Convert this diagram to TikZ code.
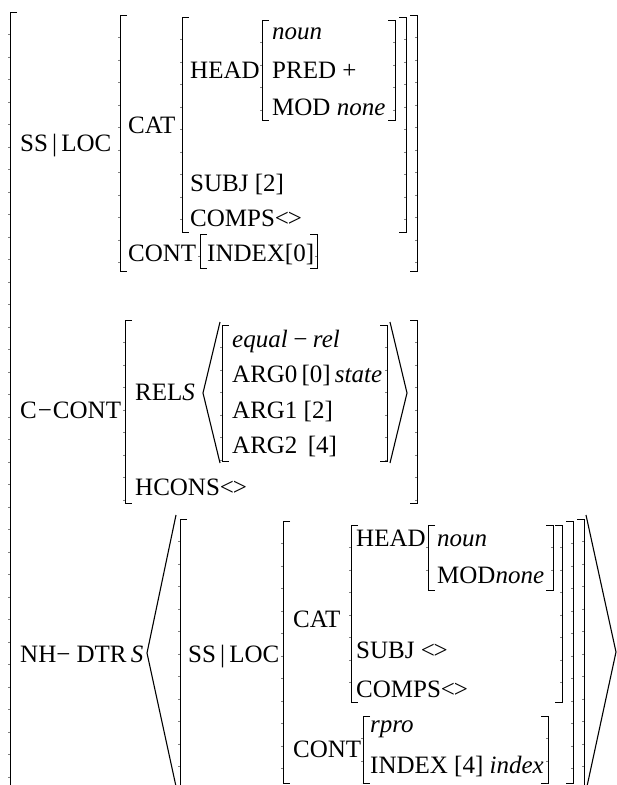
\documentclass[tikz,border=0pt]{standalone}
\usepackage{fontspec}
\setmainfont{Liberation Serif}
\newcommand\emptyl{<\kern-0.05em>}
% left and right AVM brackets: x, top, bottom
\newcommand\avmL[3]{%
  \draw[brk] (#1+7,#2) -- (#1,#2) -- (#1,#3) -- (#1+7,#3);
  \draw[ticks] (#1-0.8,#2) -- (#1-0.8,#3);}
\newcommand\avmR[3]{%
  \draw[brk] (#1-7,#2) -- (#1,#2) -- (#1,#3) -- (#1-7,#3);
  \draw[ticks] (#1-0.8,#2) -- (#1-0.8,#3);}

\begin{document}
\begin{tikzpicture}[x=1pt,y=-1pt,
  lbl/.style={anchor=base west,inner sep=0pt,font=\fontsize{25}{29}\selectfont},
  brk/.style={line width=0.9pt},
  ticks/.style={line width=1.8pt,dash pattern=on 0.5pt off 22pt,dash phase=0.5pt,black!50},
  ang/.style={line width=1.1pt,line join=miter}]
  \useasboundingbox (0,0) rectangle (617,785);

  % outer matrix
  \avmL{10}{12}{792}

  % SS|LOC
  \node[lbl] (ssloc) at (20,151) {SS\,|\,LOC};
  \avmL{120}{15}{271} \avmR{417}{15}{271}
  \node[lbl] (cat) at (128,133) {CAT};
  \avmL{182}{17}{232} \avmR{406}{17}{232}
  \node[lbl] (head) at (190,78) {HEAD};
  \avmL{262}{20}{120} \avmR{395}{20}{120}
  \node[lbl] (noun) at (272,39) {\textit{noun}};
  \node[lbl] (pred) at (272,78) {PRED +};
  \node[lbl] (mod) at (272,115) {MOD \textit{none}};
  \node[lbl] (subj) at (190,191) {SUBJ [2]};
  \node[lbl] (comps) at (190,226) {COMPS\emptyl};
  \node[lbl] (cont) at (128,261) {CONT};
  \avmL{200}{234}{268} \avmR{317}{234}{268}
  \node[lbl] (index) at (207,261) {INDEX[0]};

  % C-CONT
  \node[lbl] (ccont) at (20,418) {C\kern1pt−\kern1pt CONT};
  \avmL{125}{320}{503} \avmR{417}{320}{503}
  \node[lbl] (rels) at (135,400) {REL\textit{S}};
  \draw[ang] (220,322) -- (203,393) -- (220,463);
  \avmL{222}{325}{461} \avmR{387}{325}{461}
  \draw[ang] (390,322) -- (407,393) -- (390,463);
  \node[lbl] (eqrel) at (232,347) {\textit{equal\,−\,rel}};
  \node[lbl] (arg0) at (232,382) {ARG0\,[0]\,\textit{state}};
  \node[lbl] (arg1) at (232,418) {ARG1 [2]};
  \node[lbl] (arg2) at (232,453) {ARG2 \,[4]};
  \node[lbl] (hcons) at (135,495) {HCONS\emptyl};

  % NH-DTRS
  \node[lbl] (nhdtrs) at (20,662) {NH− DTR\,\textit{S}};
  \draw[ang] (176,515) -- (147,653) -- (177,791);
  \avmL{180}{519}{787}
  \draw[ang] (586,515) -- (616,652) -- (586,791);
  \avmR{584}{519}{787}
  \node[lbl] (ssloc2) at (188,662) {SS\,|\,LOC};
  \avmL{283}{521}{783} \avmR{573}{521}{783}
  \node[lbl] (cat2) at (293,627) {CAT};
  \avmL{351}{525}{702} \avmR{562}{525}{702}
  \node[lbl] (head2) at (356,546) {HEAD};
  \avmL{428}{525}{590} \avmR{553}{525}{590}
  \node[lbl] (noun2) at (437,546) {\textit{noun}};
  \node[lbl] (mod2) at (437,583) {MOD\textit{none}};
  \node[lbl] (subj2) at (356,658) {SUBJ \emptyl};
  \node[lbl] (comps2) at (356,697) {COMPS\emptyl};
  \node[lbl] (cont2) at (293,757) {CONT};
  \avmL{363}{716}{783} \avmR{548}{716}{783}
  \node[lbl] (rpro) at (370,732) {\textit{rpro}};
  \node[lbl] (index2) at (370,773) {INDEX [4] \textit{index}};
\end{tikzpicture}
\end{document}
